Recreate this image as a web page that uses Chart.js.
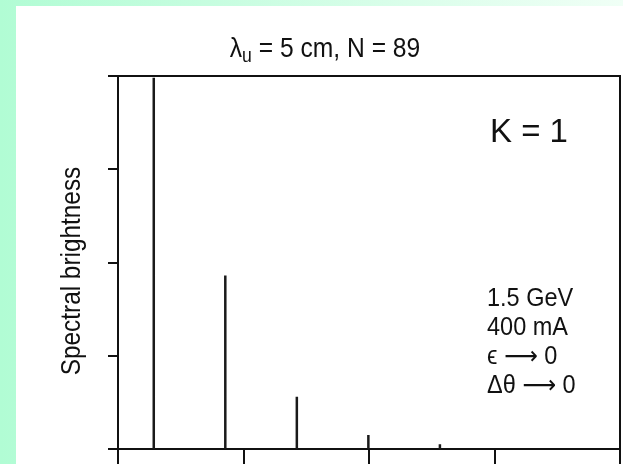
<!DOCTYPE html>
<html>
<head>
<meta charset="utf-8">
<script src="https://cdn.jsdelivr.net/npm/chart.js@4/dist/chart.umd.min.js"></script>
<style>
  html, body { margin: 0; padding: 0; }
  body {
    width: 623px; height: 464px; overflow: hidden; position: relative;
    background: linear-gradient(to right, #b1fcd4, #f0fff6);
  }
  .panel { position: absolute; left: 16px; top: 6px; width: 607px; height: 458px; background: #fff; }
</style>
</head>
<body>
<div class="panel"><canvas id="myChart" width="607" height="458"></canvas></div>
<script>
// harmonic peaks (odd harmonics of the undulator fundamental)
const peakEnergy = [0.285, 0.855, 1.425, 1.995, 2.565]
const peakHeight = [3.98, 1.86, 0.56, 0.15, 0.05]

const xTicks = [0, 1, 2, 3, 4]
const yTicks = [0, 1, 2, 3, 4]

const yLabel = 'Spectral brightness'
const kLabel = 'K = 1'
const paramLines = ['1.5 GeV', '400 mA', '\u03F5 \u27F6 0', 'Δθ \u27F6 0']

const FONT = '"Liberation Sans", "DejaVu Sans", Arial, sans-serif'
const INK = '#111'

// each peak is a vertical stroke from the axis up to its height, gaps in between
const spikes = []
peakEnergy.forEach((e, i) => {
  spikes.push({ x: e, y: 0 })
  spikes.push({ x: e, y: peakHeight[i] })
  spikes.push({ x: e, y: null })
})

const framePlugin = {
  id: 'frame',
  afterDraw(chart) {
    const { ctx, chartArea } = chart
    ctx.save()
    ctx.strokeStyle = INK
    ctx.lineWidth = 2
    ctx.beginPath()
    ctx.moveTo(chartArea.left, chartArea.top)
    ctx.lineTo(chartArea.right, chartArea.top)
    ctx.lineTo(chartArea.right, chartArea.bottom)
    ctx.stroke()
    ctx.restore()
  }
}

// the original lettering is a bit narrow, so squeeze it along the line
const squeezed = (ctx, text, x, y, sx) => {
  ctx.save()
  ctx.translate(x, y)
  ctx.scale(sx, 1)
  ctx.fillText(text, 0, 0)
  ctx.restore()
  return ctx.measureText(text).width * sx
}

const textPlugin = {
  id: 'texts',
  afterDraw(chart) {
    const { ctx, chartArea } = chart
    ctx.save()
    ctx.fillStyle = INK
    ctx.textBaseline = 'alphabetic'

    // title with subscript u
    const sx = 0.88
    const big = '28px ' + FONT
    const small = '20px ' + FONT
    const rest = ' = 5 cm, N = 89'
    ctx.font = big
    const wL = ctx.measureText('λ').width * sx
    const wR = ctx.measureText(rest).width * sx
    ctx.font = small
    const wU = ctx.measureText('u').width * sx
    let x = 309 - (wL + wU + wR) / 2
    const base = 51
    ctx.font = big
    x += squeezed(ctx, 'λ', x, base, sx)
    ctx.font = small
    x += squeezed(ctx, 'u', x, base + 5, sx)
    ctx.font = big
    squeezed(ctx, rest, x, base, sx)

    // y axis label, rotated
    ctx.save()
    ctx.font = '28px ' + FONT
    ctx.translate(56, 265)
    ctx.rotate(-Math.PI / 2)
    ctx.textAlign = 'center'
    ctx.textBaseline = 'middle'
    ctx.scale(0.87, 1)
    ctx.fillText(yLabel, 0, 0)
    ctx.restore()

    // K = 1
    ctx.font = '33px ' + FONT
    ctx.fillText(kLabel, chartArea.left + 372, chartArea.top + 66)

    // beam parameters
    ctx.font = '25px ' + FONT
    paramLines.forEach((t, i) => {
      squeezed(ctx, t, chartArea.left + 369, chartArea.top + 230 + i * 29, 0.94)
    })
    ctx.restore()
  }
}

const ctx = document.getElementById('myChart').getContext('2d')
const myChart = new Chart(ctx, {
  type: 'line',
  data: {
    datasets: [
      {
        data: spikes,
        borderColor: '#1a1a1a',
        borderWidth: 2.5,
        pointRadius: 0,
        spanGaps: false,
        tension: 0,
      },
    ],
  },
  options: {
    responsive: false,
    animation: false,
    layout: { padding: { left: 92, right: 3, top: 70, bottom: 0 } },
    plugins: { legend: { display: false }, tooltip: { enabled: false } },
    scales: {
      x: {
        type: 'linear',
        min: xTicks[0],
        max: xTicks[xTicks.length - 1],
        afterBuildTicks: (axis) => { axis.ticks = xTicks.map((v) => ({ value: v })) },
        ticks: { display: false },
        grid: { drawOnChartArea: false, drawTicks: true, tickLength: 15, color: INK, lineWidth: 2 },
        border: { display: true, color: INK, width: 2 },
      },
      y: {
        type: 'linear',
        min: yTicks[0],
        max: yTicks[yTicks.length - 1],
        afterBuildTicks: (axis) => { axis.ticks = yTicks.map((v) => ({ value: v })) },
        ticks: { display: false },
        grid: { drawOnChartArea: false, drawTicks: true, tickLength: 10, color: INK, lineWidth: 2 },
        border: { display: true, color: INK, width: 2 },
      },
    },
  },
  plugins: [framePlugin, textPlugin],
})
</script>
</body>
</html>
